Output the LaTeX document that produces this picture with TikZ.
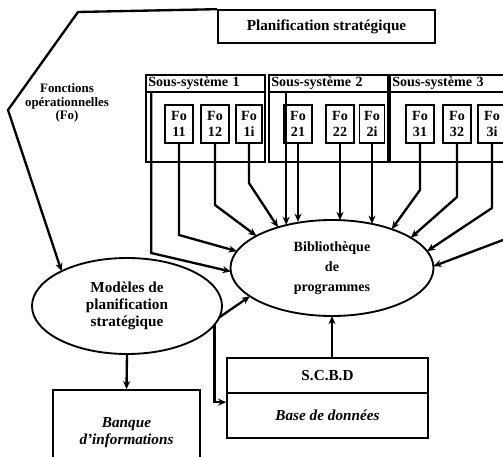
\documentclass[tikz,border=0pt]{standalone}
\usepackage{fontspec}
\setmainfont{Liberation Serif}
\usetikzlibrary{arrows.meta,shapes.geometric}

\begin{document}
\begin{tikzpicture}[x=0.03cm,y=-0.03cm]

  \useasboundingbox (0,0) rectangle (503,457);
  \clip (0,0) rectangle (503,457);

  % node styles
  \tikzstyle{Box}=[
  draw,
  line width=1.4pt,
  shape=rectangle,
  font=\fontsize{13}{14}\selectfont\bfseries,
  align=center,
  inner sep=1pt]

  \tikzstyle{Fo}=[Box,minimum width=0.84cm,minimum height=1.14cm,
  font=\fontsize{12}{13}\selectfont\bfseries]

  \tikzstyle{Sys}=[draw,line width=1.4pt,minimum height=2.61cm]

  \tikzstyle{Head}=[draw,line width=1.4pt,anchor=north west,
  minimum height=0.51cm,align=left,inner xsep=2pt,inner ysep=0pt,
  font=\fontsize{12}{12}\selectfont\bfseries]

  \tikzstyle{Oval}=[draw,line width=1.6pt,shape=ellipse,inner sep=0pt,
  outer sep=0pt,align=center,minimum height=2.88cm]

  \tikzstyle{Arr}=[line width=2pt,-{Stealth[length=7pt,width=6pt]}]

  \node[Box,minimum width=6.51cm,minimum height=0.99cm] (P) at (326.5,26.5) {Planification strat\'egique};

  \node[font=\fontsize{11}{11.5}\selectfont\bfseries,align=center] (T) at (67,103) {Fonctions\\op\'erationnelles\\(Fo)};

  % sub-systems
  \node[Sys,minimum width=3.57cm] (S1) at (205.5,118.5) {};
  \node[Sys,minimum width=3.57cm] (S2) at (328.5,118.5) {};
  \node[Sys,minimum width=3.90cm] (S3) at (455,118.5) {};

  \node[Head,text width=3.43cm] (H1) at (S1.north west) {Sous-syst\`eme 1};
  \node[Head,text width=3.43cm] (H2) at (S2.north west) {Sous-syst\`eme 2};
  \node[Head,text width=3.76cm] (H3) at (S3.north west) {Sous-syst\`eme 3};

  \node[Fo] (F11) at (179,124) {Fo\\11};
  \node[Fo] (F12) at (215,124) {Fo\\12};
  \node[Fo,minimum width=0.78cm] (F1i) at (249,124) {Fo\\1i};
  \node[Fo] (F21) at (298,124) {Fo\\21};
  \node[Fo] (F22) at (340,124) {Fo\\22};
  \node[Fo,minimum width=0.74cm] (F2i) at (372,124) {Fo\\2i};
  \node[Fo] (F31) at (420,124) {Fo\\31};
  \node[Fo] (F32) at (457,124) {Fo\\32};
  \node[Fo] (F3i) at (492,124) {Fo\\3i};

  % ellipses
  \node[Oval,minimum width=6.09cm,font=\fontsize{12}{17}\selectfont\bfseries] (B) at (332,268) {Biblioth\`eque\\de\\programmes};
  \node[Oval,minimum width=5.70cm,font=\fontsize{13}{14.5}\selectfont\bfseries] (M) at (127,306) {Mod\`eles de\\planification\\strat\'egique};

  % data boxes
  \node[Box,minimum width=6.03cm,minimum height=1.05cm] (S) at (327.5,375.5) {S.C.B.D};
  \node[Box,minimum width=6.03cm,minimum height=1.35cm,font=\fontsize{13}{14}\selectfont\bfseries\itshape] (D) at (327.5,415.5) {Base de donn\'ees};
  \node[Box,minimum width=4.41cm,minimum height=2.55cm,font=\fontsize{13}{15}\selectfont\bfseries\itshape] (Q) at (126.5,432.5) {Banque\\d'informations};

  % outline round the functions
  \coordinate (K1) at (78,12);
  \coordinate (K2) at (8,110);
  \draw[Arr] (P.north west) -- (K1) -- (K2) -- (M.152);

  % functions -> library
  \coordinate (A1) at ([xshift=0.18cm]H1.south west);
  \coordinate (A2) at ([xshift=0.54cm]H2.south west);
  \coordinate (E) at (503,240);

  \draw[Arr] (A1) -- (A1 |- 0,253) -- (B.182);
  \draw[Arr] (F11.south) -- (F11.south |- 0,235) -- (B.170);
  \draw[Arr] (F12.south) -- (F12.south |- 0,205) -- (B.157);
  \draw[Arr] (F1i.south) -- (F1i.south |- 0,183) -- (B.143);
  \draw[Arr] (A2) -- (A2 |- B.136);
  \draw[Arr] (F21.south) -- (F21.south |- B.121);
  \draw[Arr] (F22.south) -- (F22.south |- B.81);
  \draw[Arr] (F2i.south) -- (F2i.south |- B.48);
  \draw[Arr] (F31.south) -- (F31.south |- 0,190) -- (B.33);
  \draw[Arr] (F32.south) -- (F32.south |- 0,197) -- (B.21);
  \draw[Arr] (F3i.south) -- (F3i.south |- 0,208) -- (B.10);
  \draw[Arr] (E) -- (B.1);

  % models and data
  \coordinate (G) at ([yshift=0.4cm]D.west);
  \draw[Arr] (M.-7) -- (B.199);
  \draw[Arr] (M.-12) -- (M.-12 |- G) -- (G);
  \draw[Arr] (M.south) -- (Q.north);
  \draw[Arr] (B.south |- S.north) -- (B.south);

\end{tikzpicture}
\end{document}
